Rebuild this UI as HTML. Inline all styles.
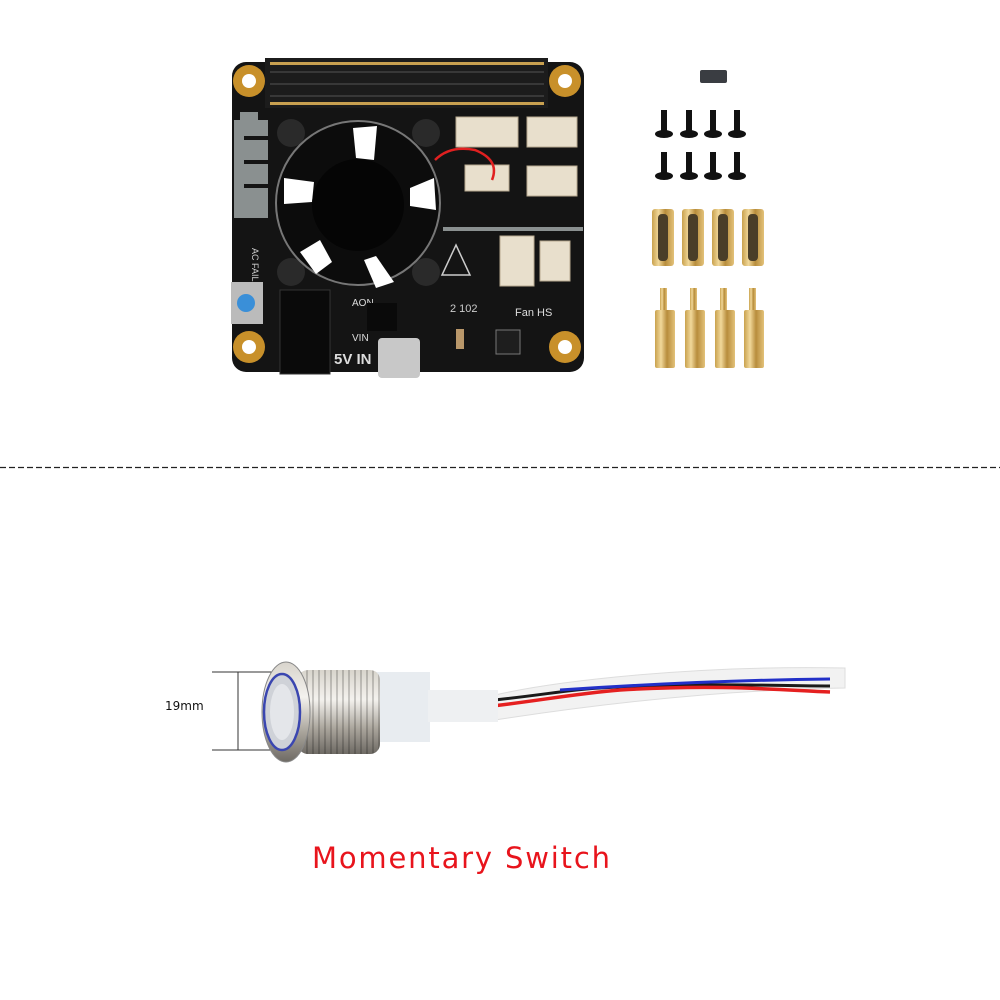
<!DOCTYPE html>
<html><head><meta charset="utf-8"><style>
html,body{margin:0;padding:0;background:#fff;width:1000px;height:1000px;overflow:hidden}
svg{display:block}
</style></head><body>
<svg width="1000" height="1000" viewBox="0 0 1000 1000" xmlns="http://www.w3.org/2000/svg" font-family="Liberation Sans, sans-serif">
<defs>
<linearGradient id="brass" x1="0" x2="1"><stop offset="0" stop-color="#c9a24e"/><stop offset=".3" stop-color="#f1d89a"/><stop offset=".6" stop-color="#b88d3c"/><stop offset="1" stop-color="#e3c27a"/></linearGradient>
<linearGradient id="steel" x1="0" y1="0" x2="0" y2="1"><stop offset="0" stop-color="#d8d4cc"/><stop offset=".35" stop-color="#f4f2ee"/><stop offset=".7" stop-color="#a9a49b"/><stop offset="1" stop-color="#6e6a64"/></linearGradient>
<pattern id="thr" width="6" height="10" patternUnits="userSpaceOnUse"><rect width="6" height="10" fill="none"/><rect x="0" width="2" height="10" fill="#000" opacity=".18"/></pattern>
</defs>
<rect x="232" y="62" width="352" height="310" rx="14" fill="#141414"/>
<rect x="265" y="58" width="283" height="50" fill="#1c1c1c"/>
<g fill="#c8a050">
<rect x="270" y="62" width="274" height="3"/><rect x="270" y="102" width="274" height="3"/>
</g>
<g stroke="#555" stroke-width="1">
<path d="M270 72H544M270 84H544M270 96H544"/>
</g>
<g fill="#c8902a"><circle cx="249" cy="81" r="16"/><circle cx="565" cy="81" r="16"/><circle cx="249" cy="347" r="16"/><circle cx="565" cy="347" r="16"/></g>
<g fill="#fff"><circle cx="249" cy="81" r="7"/><circle cx="565" cy="81" r="7"/><circle cx="249" cy="347" r="7"/><circle cx="565" cy="347" r="7"/></g>
<rect x="234" y="120" width="34" height="98" fill="#8a9090"/>
<rect x="240" y="112" width="18" height="8" fill="#8a9090"/>
<g fill="#141414"><rect x="244" y="136" width="24" height="4"/><rect x="244" y="160" width="24" height="4"/><rect x="244" y="184" width="24" height="4"/></g>
<text x="252" y="248" font-size="9" fill="#ccc" transform="rotate(90 252 248)">AC FAIL</text>
<g fill="#2a2a2a"><circle cx="291" cy="133" r="14"/><circle cx="426" cy="133" r="14"/><circle cx="291" cy="272" r="14"/><circle cx="426" cy="272" r="14"/></g>
<circle cx="358" cy="203" r="82" fill="#0c0c0c" stroke="#777" stroke-width="2"/>
<g fill="#fff">
<polygon points="353,128 377,126 374,160 356,158"/>
<polygon points="410,188 434,178 436,210 410,206"/>
<polygon points="376,256 394,282 376,288 364,260"/>
<polygon points="300,252 320,240 332,262 316,274"/>
<polygon points="284,178 314,182 312,202 284,204"/>
</g>
<circle cx="358" cy="205" r="46" fill="#050505"/>
<g fill="#e8dfcc" stroke="#b8aa90">
<rect x="456" y="117" width="62" height="30"/><rect x="527" y="117" width="50" height="30"/>
<rect x="465" y="165" width="44" height="26"/><rect x="527" y="166" width="50" height="30"/>
<rect x="500" y="236" width="34" height="50"/><rect x="540" y="241" width="30" height="40"/>
</g>
<path d="M435 160 Q450 145 475 150 Q500 160 492 180" stroke="#e02020" stroke-width="2.5" fill="none"/>
<rect x="443" y="227" width="140" height="4" fill="#8a9090"/>
<path d="M456 245 L470 275 L442 275Z" fill="none" stroke="#ccc" stroke-width="1.5"/>
<text x="450" y="312" font-size="11" fill="#ccc">2 102</text>
<text x="515" y="316" font-size="11" fill="#ddd">Fan HS</text>
<text x="352" y="306" font-size="10" fill="#ddd">AON</text>
<text x="352" y="341" font-size="10" fill="#ddd">VIN</text>
<text x="334" y="364" font-size="15" font-weight="bold" fill="#ddd">5V IN</text>
<rect x="367" y="303" width="30" height="28" fill="#0a0a0a"/>
<rect x="231" y="282" width="32" height="42" fill="#bbb"/>
<circle cx="246" cy="303" r="9" fill="#3a8fd8"/>
<rect x="280" y="290" width="50" height="84" fill="#0a0a0a" stroke="#333"/>
<rect x="378" y="338" width="42" height="40" rx="4" fill="#c8c8c8"/>
<rect x="496" y="330" width="24" height="24" fill="#1e1e1e" stroke="#777"/>
<rect x="456" y="329" width="8" height="20" fill="#b9976a"/>
<rect x="700" y="70" width="27" height="13" rx="2" fill="#3a3d42"/>
<g fill="#111">
<rect x="661" y="110" width="6" height="22"/><rect x="686" y="110" width="6" height="22"/><rect x="710" y="110" width="6" height="22"/><rect x="734" y="110" width="6" height="22"/>
<rect x="661" y="152" width="6" height="22"/><rect x="686" y="152" width="6" height="22"/><rect x="710" y="152" width="6" height="22"/><rect x="734" y="152" width="6" height="22"/>
<ellipse cx="664" cy="134" rx="9" ry="4"/><ellipse cx="689" cy="134" rx="9" ry="4"/><ellipse cx="713" cy="134" rx="9" ry="4"/><ellipse cx="737" cy="134" rx="9" ry="4"/>
<ellipse cx="664" cy="176" rx="9" ry="4"/><ellipse cx="689" cy="176" rx="9" ry="4"/><ellipse cx="713" cy="176" rx="9" ry="4"/><ellipse cx="737" cy="176" rx="9" ry="4"/>
</g>
<g fill="url(#brass)">
<rect x="652" y="209" width="22" height="57" rx="3"/><rect x="682" y="209" width="22" height="57" rx="3"/><rect x="712" y="209" width="22" height="57" rx="3"/><rect x="742" y="209" width="22" height="57" rx="3"/>
<rect x="660" y="288" width="7" height="24"/><rect x="690" y="288" width="7" height="24"/><rect x="720" y="288" width="7" height="24"/><rect x="749" y="288" width="7" height="24"/>
<rect x="655" y="310" width="20" height="58" rx="2"/><rect x="685" y="310" width="20" height="58" rx="2"/><rect x="715" y="310" width="20" height="58" rx="2"/><rect x="744" y="310" width="20" height="58" rx="2"/>
</g>
<g fill="#4a3e28"><rect x="658" y="214" width="10" height="47" rx="4"/><rect x="688" y="214" width="10" height="47" rx="4"/><rect x="718" y="214" width="10" height="47" rx="4"/><rect x="748" y="214" width="10" height="47" rx="4"/></g>
<line x1="0" y1="467.5" x2="1000" y2="467.5" stroke="#222" stroke-width="1.2" stroke-dasharray="6,3"/>
<path d="M212 672H290M212 750H290M238 672V750" stroke="#333" stroke-width="1"/>
<text x="165" y="710" font-size="12" fill="#111" font-family="DejaVu Sans, sans-serif">19mm</text>
<path d="M845 668 C700 665 560 680 495 695 L495 720 C560 710 700 690 845 688Z" fill="#f2f2f2" stroke="#ddd"/>
<path d="M430 705 C520 700 560 690 600 688 C700 682 770 686 830 686" stroke="#1a1a1a" stroke-width="3" fill="none"/>
<path d="M432 712 C520 705 560 695 620 690 C720 684 780 690 830 692" stroke="#e52020" stroke-width="3.5" fill="none"/>
<path d="M560 690 C650 684 740 680 830 679" stroke="#2230c8" stroke-width="3" fill="none"/>
<rect x="370" y="672" width="60" height="70" fill="#e6eaee" opacity=".9"/>
<rect x="428" y="690" width="70" height="32" fill="#eef0f2"/>
<rect x="298" y="670" width="82" height="84" rx="10" fill="url(#steel)"/>
<rect x="298" y="670" width="82" height="84" rx="10" fill="url(#thr)"/>
<ellipse cx="286" cy="712" rx="24" ry="50" fill="url(#steel)" stroke="#888"/>
<ellipse cx="282" cy="712" rx="18" ry="38" fill="#cfd2d8" stroke="#3a46b0" stroke-width="2.5"/>
<ellipse cx="282" cy="712" rx="12" ry="28" fill="#e4e6ea"/>
<text x="312" y="868" font-size="29" fill="#e8141c" font-family="DejaVu Sans, sans-serif" textLength="298">Momentary Switch</text>
</svg>
</body></html>
